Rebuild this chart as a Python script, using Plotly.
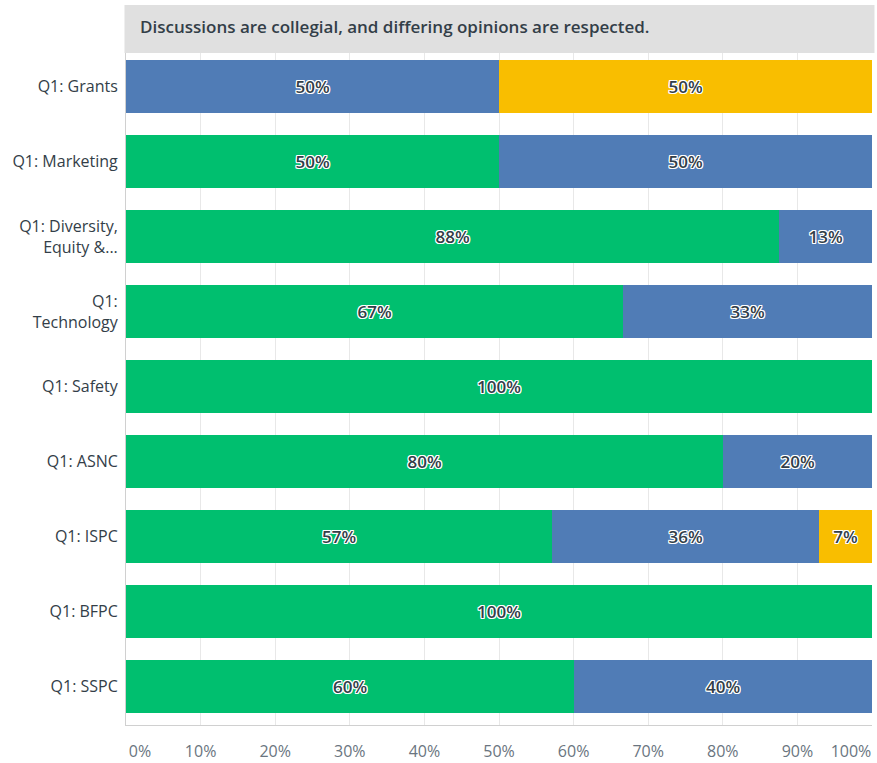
import plotly.graph_objects as go

# ---- data ----
categories = ["Q1: Grants", "Q1: Marketing", "Q1: Diversity,<br>Equity &...", "Q1:<br>Technology",
              "Q1: Safety", "Q1: ASNC", "Q1: ISPC", "Q1: BFPC", "Q1: SSPC"]
green_vals = [None, 50, 87.5, 66.67, 100, 80, 57.14, 100, 60]
blue_vals = [50, 50, 12.5, 33.33, None, 20, 35.71, None, 40]
yellow_vals = [50, None, None, None, None, None, 7.14, None, None]
x_ticks = [10, 20, 30, 40, 50, 60, 70, 80, 90]
x_tick_labels = ["10%", "20%", "30%", "40%", "50%", "60%", "70%", "80%", "90%"]
title_text = "Discussions are collegial, and differing opinions are respected."

# ---- styling ----
W, H = 877, 763
L, R, T, B = 125.5, 4.5, 53, 38
plot_h = H - T - B
FONT = "Open Sans"
TICKC = "#6A7580"
shadow = ("1px 1px 0 #fff, -1px -1px 0 #fff, 1px -1px 0 #fff, -1px 1px 0 #fff, "
          "0 1px 0 #fff, 0 -1px 0 #fff, 1px 0 0 #fff, -1px 0 0 #fff")

ypos = list(range(len(categories)))

fig = go.Figure()
for vals, color in [(green_vals, "#00BF6F"), (blue_vals, "#507CB6"), (yellow_vals, "#F9BE00")]:
    fig.add_trace(go.Bar(
        y=ypos, x=vals, orientation="h", width=0.707,
        marker=dict(color=color, line=dict(width=0)),
        texttemplate="%{x:.0f}%", textposition="inside", insidetextanchor="middle",
        textangle=0, constraintext="none",
        textfont=dict(family=FONT, size=17, color="#333E48", weight=600, shadow=shadow),
        hoverinfo="skip", showlegend=False,
    ))

tickfont = dict(size=16, color=TICKC, family=FONT)
fig.update_layout(
    width=W, height=H, barmode="stack", bargap=0,
    margin=dict(l=L, r=R, t=T, b=B, pad=0, autoexpand=False),
    plot_bgcolor="white", paper_bgcolor="white",
    font=dict(family=FONT, color="#333E48"),
    xaxis=dict(range=[0, 100], tickvals=x_ticks, ticktext=x_tick_labels,
               showgrid=True, gridcolor="#E8E8E8", gridwidth=1,
               zeroline=False, showline=True, linecolor="#D0D0D0", linewidth=1,
               ticks="", tickfont=tickfont, ticklabelstandoff=12, fixedrange=True),
    xaxis2=dict(range=[0, 100], overlaying="x", side="bottom", tickvals=[0], ticktext=["0%"],
                ticklabelshift=14, showgrid=False, zeroline=False, showline=False,
                ticks="", tickfont=tickfont, ticklabelstandoff=15),
    xaxis3=dict(range=[0, 100], overlaying="x", side="bottom", tickvals=[100], ticktext=["100%"],
                ticklabelshift=-21, showgrid=False, zeroline=False, showline=False,
                ticks="", tickfont=tickfont, ticklabelstandoff=15),
    yaxis=dict(range=[8.513, -0.447], tickvals=ypos, ticktext=categories,
               showgrid=False, zeroline=False, showline=True, linecolor="#D0D0D0", linewidth=1,
               ticks="", tickfont=dict(size=16, color="#333E48", family=FONT),
               ticklabelstandoff=4, fixedrange=True),
)

# invisible traces to activate extra axes
fig.add_trace(go.Scatter(x=[None], y=[None], xaxis="x2", showlegend=False, hoverinfo="skip"))
fig.add_trace(go.Scatter(x=[None], y=[None], xaxis="x3", showlegend=False, hoverinfo="skip"))

# header band
fig.add_shape(type="rect", xref="paper", yref="paper",
              x0=(124 - L) / (W - L - R), x1=(875 - L) / (W - L - R),
              y0=1.0, y1=1 + (T - 5) / plot_h,
              fillcolor="#E0E0E0", line=dict(width=0), layer="above")
fig.add_annotation(xref="paper", yref="paper", x=(138 - L) / (W - L - R), y=1 + (T - 27) / plot_h,
                   xanchor="left", yanchor="middle", showarrow=False, text=title_text,
                   font=dict(family=FONT, size=17, color="#333E48", weight=600))

fig.write_html("out.html", config={"displayModeBar": False},
               post_script="document.body.style.margin='0';document.body.style.padding='0';")
